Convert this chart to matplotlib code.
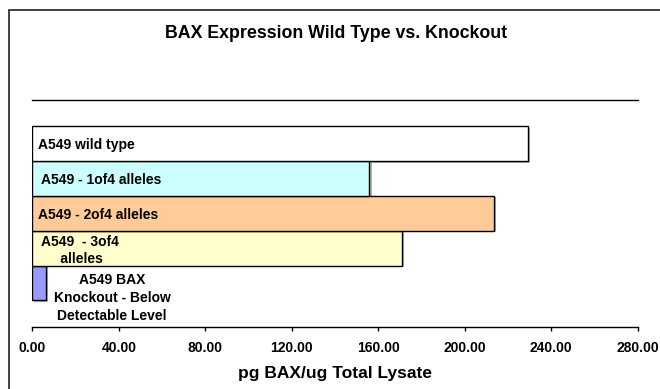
#!/usr/bin/env python3
# -*- coding: utf-8 -*-

"""
BAX expression, wild type vs knockout, horizontal bars
"""

import numpy as np
import matplotlib as mpl
import matplotlib.pyplot as plt
from matplotlib.patches import Rectangle

mpl.rcParams['font.family'] = ['Liberation Sans', 'DejaVu Sans']
mpl.rcParams['font.weight'] = 'bold'

# data, bottom to top
labels = ['A549 BAX\nKnockout - Below\nDetectable Level',
          'A549  - 3of4\n     alleles',
          'A549 - 2of4 alleles',
          'A549 - 1of4 alleles',
          'A549 wild type']
values = [6.2, 170.8, 213.5, 155.9, 229.2]
colors = ['#9999FF', '#FFFFCC', '#FFCC99', '#CCFFFF', '#FFFFFF']
xticks = [0, 40, 80, 120, 160, 200, 240, 280]

if __name__ == "__main__":
    fig = plt.figure(figsize=(6.6, 3.89), dpi=100)

    # outer frame of the chart area (cut by the right/bottom edges)
    fig.patches.append(Rectangle((9/660, -0.1), 1.2, 1 - 10/389 + 0.1,
                                 transform=fig.transFigure, fill=False,
                                 edgecolor='#333333', lw=1.3))

    ax1 = fig.add_axes([32.3/660, 1 - 326.7/389, 605.4/660, 226.7/389])
    pos = np.arange(len(values))
    ax1.barh(pos, values, height=1.0, color=colors, edgecolor='black', lw=1.0, zorder=2)
    # slight grey shadow like the original
    ax1.barh(pos - 0.04, values, height=1.0, left=1.0, color='#b0b0b0', lw=0, zorder=1)

    for i, lab in enumerate(labels):
        if i == 0:
            ax1.text(36.9, -0.43, lab, ha='center', va='center', fontsize=10,
                     fontweight='bold', linespacing=1.4, multialignment='center', zorder=3)
        elif i == 1:
            ax1.text(4.0, i - 0.06, lab, ha='left', va='center', fontsize=10,
                     fontweight='bold', linespacing=1.25, zorder=3)
        elif i == 3:
            ax1.text(4.0, i - 0.05, lab, ha='left', va='center', fontsize=10,
                     fontweight='bold', zorder=3)
        else:
            ax1.text(2.8, i - 0.05, lab, ha='left', va='center', fontsize=10,
                     fontweight='bold', zorder=3)

    ax1.set_xlim(0, 280)
    ax1.set_ylim(-1.257, 5.257)
    ax1.set_xticks(xticks)
    ax1.set_xticklabels(['%.2f' % t for t in xticks], fontsize=10, fontweight='bold')
    ax1.set_yticks([])
    ax1.tick_params(axis='x', direction='out', length=3, width=1, pad=7)
    ax1.spines['left'].set_visible(False)
    ax1.spines['right'].set_visible(False)
    ax1.spines['top'].set_linewidth(1.0)
    ax1.spines['bottom'].set_linewidth(1.0)

    ax1.set_xlabel('pg BAX/ug Total Lysate', fontsize=12.5, fontweight='bold', labelpad=8)
    fig.text(336/660, 1 - 33/389, 'BAX Expression Wild Type vs. Knockout',
             ha='center', va='center', fontsize=12.8, fontweight='bold')

    plt.savefig('out.png', dpi=100)
